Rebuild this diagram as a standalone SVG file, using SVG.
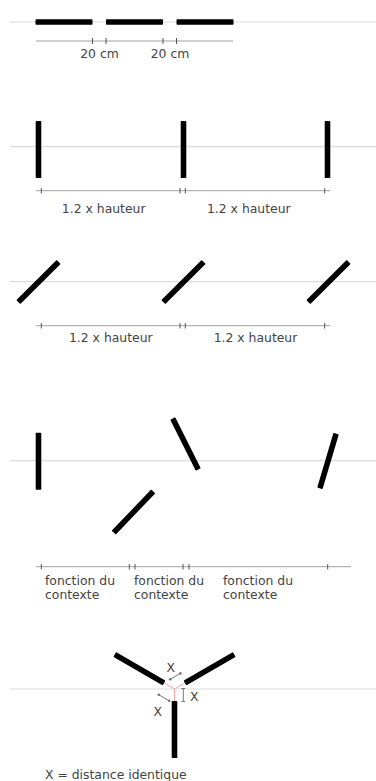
<svg xmlns="http://www.w3.org/2000/svg" xmlns:xlink="http://www.w3.org/1999/xlink" width="376" height="781" viewBox="0 0 376 781">
<style>
.bg{stroke:#dcdcdc;stroke-width:1.2;fill:none}
.dim{stroke:#a0a0a0;stroke-width:1;fill:none}
.tick{stroke:#555;stroke-width:1;fill:none}
.red{stroke:#f2a8a8;stroke-width:1;fill:none}
.mk{stroke:#777;stroke-width:1;fill:none}
.dot{fill:#777}
text{font-family:"DejaVu Sans","Verdana",sans-serif;font-size:12.4px;fill:#444}
.c{text-anchor:middle}
</style>
<defs>
<rect id="bar" x="-2.8" y="-28.5" width="5.6" height="57" rx="0.8" fill="#000"/>
</defs>
<rect width="376" height="781" fill="#fff"/>
<g id="guides">
<line class="bg" x1="10" y1="22" x2="376" y2="22"/>
<line class="bg" x1="10" y1="146.7" x2="376" y2="146.7"/>
<line class="bg" x1="10" y1="281.7" x2="376" y2="281.7"/>
<line class="bg" x1="10" y1="460.7" x2="376" y2="460.7"/>
<line class="bg" x1="10" y1="689" x2="376" y2="689"/>
</g>
<g id="section1">
<use xlink:href="#bar" transform="translate(64,22) rotate(90)"/>
<use xlink:href="#bar" transform="translate(134.5,22) rotate(90)"/>
<use xlink:href="#bar" transform="translate(205,22) rotate(90)"/>
<line class="dim" x1="36" y1="41" x2="233" y2="41"/>
<path class="tick" d="M92.5 38V44M106 38V44M163 38V44M176.5 38V44"/>
<text class="c" x="99.5" y="58">20 cm</text>
<text class="c" x="170" y="58">20 cm</text>
</g>
<g id="section2">
<use xlink:href="#bar" transform="translate(38.5,149.5)"/>
<use xlink:href="#bar" transform="translate(183.5,149.5)"/>
<use xlink:href="#bar" transform="translate(327.5,149.5)"/>
<line class="dim" x1="36" y1="190.7" x2="330" y2="190.7"/>
<path class="tick" d="M41.3 188V193.5M180 188V193.5M185.3 188V193.5M324.7 188V193.5"/>
<text class="c" x="103.7" y="212.5">1.2 x hauteur</text>
<text class="c" x="248.8" y="212.5">1.2 x hauteur</text>
</g>
<g id="section3">
<use xlink:href="#bar" transform="translate(38.5,282) rotate(45)"/>
<use xlink:href="#bar" transform="translate(183.5,282) rotate(45)"/>
<use xlink:href="#bar" transform="translate(328.5,282) rotate(45)"/>
<line class="dim" x1="36" y1="325.7" x2="330" y2="325.7"/>
<path class="tick" d="M41.3 323V328.5M180 323V328.5M185.3 323V328.5M324.7 323V328.5"/>
<text class="c" x="110.8" y="342">1.2 x hauteur</text>
<text class="c" x="255.5" y="342">1.2 x hauteur</text>
</g>
<g id="section4">
<use xlink:href="#bar" transform="translate(38.5,461.3)"/>
<use xlink:href="#bar" transform="translate(185.5,444) rotate(-26.6)"/>
<use xlink:href="#bar" transform="translate(133.5,512) rotate(43.8)"/>
<use xlink:href="#bar" transform="translate(328,461) rotate(16.5)"/>
<line class="dim" x1="36" y1="566.7" x2="351" y2="566.7"/>
<path class="tick" d="M41.3 564V569.5M129.3 564V569.5M135 564V569.5M183 564V569.5M189 564V569.5M327.7 564V569.5"/>
<text x="45" y="585.3">fonction du</text>
<text x="45" y="599.3">contexte</text>
<text x="134" y="585.3">fonction du</text>
<text x="134" y="599.3">contexte</text>
<text x="223" y="585.3">fonction du</text>
<text x="223" y="599.3">contexte</text>
</g>
<g id="section5">
<path class="red" d="M174.5 689L164.1 683M174.5 689L184.9 683M174.5 689V701"/>
<use xlink:href="#bar" transform="translate(174.5,729.5)"/>
<use xlink:href="#bar" transform="translate(139.4,668.75) rotate(-60)"/>
<use xlink:href="#bar" transform="translate(209.6,668.75) rotate(60)"/>
<line class="mk" x1="170.2" y1="679.3" x2="180.4" y2="673.4"/>
<circle class="dot" cx="170.2" cy="679.3" r="1.3"/>
<circle class="dot" cx="180.4" cy="673.4" r="1.3"/>
<line class="mk" x1="183.3" y1="688.5" x2="183.3" y2="701.5"/>
<path class="mk" d="M181.3 688.5H185.3M181.3 701.5H185.3"/>
<line class="mk" x1="158.8" y1="694.8" x2="169.2" y2="700.8"/>
<circle class="dot" cx="158.8" cy="694.8" r="1.3"/>
<circle class="dot" cx="169.2" cy="700.8" r="1.3"/>
<text class="c" x="170.7" y="671.8">X</text>
<text class="c" x="194.3" y="701.2">X</text>
<text class="c" x="157.7" y="716.2">X</text>
<text x="45" y="779">X = distance identique</text>
</g>
</svg>
